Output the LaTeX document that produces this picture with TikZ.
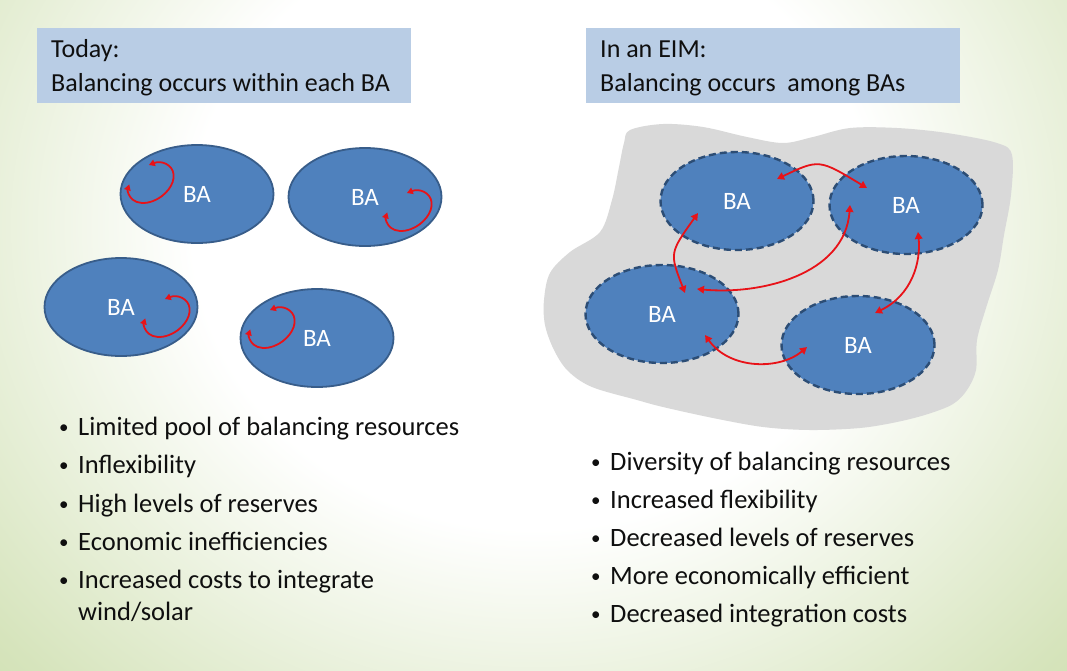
\documentclass[tikz,border=0pt]{standalone}
\usepackage{fontspec}
\setmainfont{Carlito}
\usetikzlibrary{shapes.geometric, arrows.meta}

\definecolor{bgedge}{RGB}{186,207,142}
\definecolor{bgmid}{RGB}{214,228,188}
\definecolor{bafill}{RGB}{79,129,189}
\definecolor{baline}{RGB}{56,93,138}
\definecolor{badash}{RGB}{44,77,117}
\definecolor{titlefill}{RGB}{185,205,229}
\definecolor{blobgray}{RGB}{217,217,217}
\definecolor{arrred}{RGB}{232,18,24}
\definecolor{txt}{RGB}{15,15,15}
\pgfdeclareradialshading{bgshade}{\pgfpoint{0bp}{0bp}}{color(0bp)=(white); color(16bp)=(white); color(33bp)=(bgmid); color(50bp)=(bgedge)}
\newcommand{\bul}{\makebox[19pt][l]{\raisebox{1.5pt}{\fontsize{19}{19}\selectfont •}}}

\begin{document}
\begin{tikzpicture}[x=1pt,y=-1pt,
  ba/.style={ellipse, fill=bafill, minimum width=153pt, minimum height=98pt, inner sep=0pt, text=white, font=\fontsize{25}{29}\selectfont},
  basolid/.style={ba, draw=baline, line width=1.8pt},
  badashed/.style={ba, draw=badash, line width=2.4pt, dash pattern=on 7pt off 4pt},
  titlebox/.style={fill=titlefill, minimum width=374pt, minimum height=75pt, inner sep=0pt},
  ttext/.style={anchor=base west, inner sep=0pt, font=\fontsize{26}{30}\selectfont, text=txt},
  btext/.style={anchor=base west, inner sep=0pt, font=\fontsize{26.5}{31}\selectfont, text=txt},
  selfarrow/.style={draw=arrred, line width=1.8pt, {Triangle[length=6pt,width=6.5pt]}-{Triangle[length=6pt,width=6.5pt]}},
  baarrow/.style={draw=arrred, line width=1.8pt, {Triangle[length=7pt,width=7.5pt]}-{Triangle[length=7pt,width=7.5pt]}},
]
% background
\begin{scope}
\clip (0,0) rectangle (1067,670);
\shade[shading=bgshade] (0,-250) rectangle (1067,700);
\end{scope}
\useasboundingbox (0,0) rectangle (1067,670);

% title boxes
\node[titlebox] (tl) at (224,65.5) {};
\node[ttext] (tl1) at (51,57) {Today:};
\node[ttext] (tl2) at (51,91) {Balancing occurs within each BA};
\node[titlebox] (tr) at (773,65.5) {};
\node[ttext] (tr1) at (600,57) {In an EIM:};
\node[ttext] (tr2) at (600,91) {Balancing occurs \ among BAs};

% left: separate BAs
\node[basolid] (L1) at (197,194) {BA};
\node[basolid] (L2) at (365,197) {BA};
\node[basolid] (L3) at (121,307) {BA};
\node[basolid] (L4) at (317,338) {BA};
\foreach \c in {(151,183),(409,211),(167,317),(272,328)}
  \draw[selfarrow, shift={\c}, rotate=35] (-70:25 and 17) arc[start angle=-70, end angle=222, x radius=25, y radius=17];

% right: blob
\fill[blobgray] plot[smooth cycle, tension=0.55] coordinates {
 (630,130) (663,124) (703,127) (747,137) (783,143) (813,137) (850,128) (897,128)
 (947,133) (997,143) (1012,155) (1011,195) (1004,235) (998,270) (986,308) (977,340)
 (976,370) (967,390) (953,404) (928,414) (897,422) (860,428) (810,430) (763,427)
 (713,418) (663,407) (637,400) (592,387) (568,371) (554,350) (545,325) (544,300)
 (550,273) (570,252) (600,232) (612,200) (619,167) (624,143)};

\node[badashed] (A) at (737,201) {BA};
\node[badashed] (B) at (906,205) {BA};
\node[badashed] (C) at (662,314) {BA};
\node[badashed] (D) at (858,345) {BA};

\draw[baarrow] ([shift={(40,-22)}]A.center) .. controls ([shift={(82,-42)}]A.center) .. ([shift={(-39,-17)}]B.center);
\draw[baarrow] ([shift={(-39,12)}]A.center) .. controls ([shift={(-67.5,52)}]A.center) .. ([shift={(23,-21)}]C.center);
\draw[baarrow] ([shift={(-56,0)}]B.center) .. controls ([shift={(-61,70)}]B.center) and ([shift={(98,-19)}]C.center) .. ([shift={(35,-25)}]C.center);
\draw[baarrow] ([shift={(12,27)}]B.center) .. controls ([shift={(15,57)}]B.center) and ([shift={(54,-50)}]D.center) .. ([shift={(17,-32)}]D.center);
\draw[baarrow] ([shift={(43,21)}]C.center) .. controls ([shift={(68,56)}]C.center) and ([shift={(-78,25)}]D.center) .. ([shift={(-51,2)}]D.center);

% bullets left
\node[btext] (lb1) at (59,435) {\bul Limited pool of balancing resources};
\node[btext] (lb2) at (59,473) {\bul Inflexibility};
\node[btext] (lb3) at (59,512) {\bul High levels of reserves};
\node[btext] (lb4) at (59,550) {\bul Economic inefficiencies};
\node[btext] (lb5) at (59,588) {\bul Increased costs to integrate};
\node[btext] (lb6) at (78,620) {wind/solar};

% bullets right
\node[btext] (rb1) at (591,470) {\bul Diversity of balancing resources};
\node[btext] (rb2) at (591,508) {\bul Increased flexibility};
\node[btext] (rb3) at (591,546) {\bul Decreased levels of reserves};
\node[btext] (rb4) at (591,584) {\bul More economically efficient};
\node[btext] (rb5) at (591,622) {\bul Decreased integration costs};
\end{tikzpicture}
\end{document}
